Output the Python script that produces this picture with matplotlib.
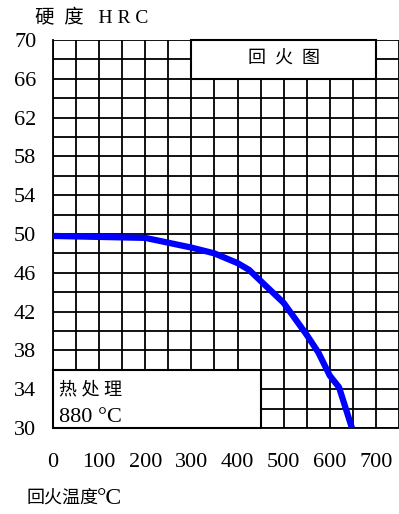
import matplotlib.pyplot as plt
from matplotlib.patches import Rectangle
import numpy as np

# 回火曲线：回火温度 (°C) 与硬度 (HRC)
temp = [0, 200, 300, 350, 400, 425, 500, 550, 575, 600, 620, 648]
hrc = [49.8, 49.6, 48.6, 48.0, 47.0, 46.3, 42.9, 39.6, 37.8, 35.4, 34.2, 30.0]

x_ticks = [0, 100, 200, 300, 400, 500, 600, 700]
y_ticks = [30, 34, 38, 42, 46, 50, 54, 58, 62, 66, 70]

fam = ['Liberation Serif', 'Noto Sans CJK SC']

fig = plt.figure(figsize=(3.99, 5.14), dpi=100)
ax = fig.add_axes([53/399, 86/514, 346/399, 388/514])

ax.set_xlim(0, 737)
ax.set_ylim(30, 70)
ax.set_xticks(x_ticks)
ax.set_xticks(np.arange(0, 751, 50), minor=True)
ax.set_yticks(y_ticks)
ax.set_yticks(np.arange(30, 71, 2), minor=True)
ax.set_xticklabels([str(t) for t in x_ticks], family=fam, fontsize=16)
ax.set_yticklabels([str(t) for t in y_ticks], family=fam, fontsize=16)
ax.tick_params(which='both', length=0)
ax.tick_params(axis='x', pad=18)
ax.tick_params(axis='y', pad=12)
ax.grid(which='both', color='black', linewidth=1.3)
ax.set_axisbelow(True)

for s in ['top', 'right']:
    ax.spines[s].set_visible(False)
for s in ['left', 'bottom']:
    ax.spines[s].set_linewidth(1.3)

ax.plot(temp, hrc, color='#0000ff', linewidth=4.5, solid_capstyle='butt', zorder=4)

# 标题框
ax.add_patch(Rectangle((300, 66), 400, 4, facecolor='white', edgecolor='black',
                       linewidth=1.5, zorder=3, clip_on=False))
ax.text(500, 68, '回  火  图', family=fam, fontsize=13, ha='center', va='center', zorder=5)

# 热处理框
ax.add_patch(Rectangle((0, 30), 450, 6, facecolor='white', edgecolor='black',
                       linewidth=1.5, zorder=3, clip_on=False))
ax.text(12, 33.9, '热 处 理', family=fam, fontsize=13, ha='left', va='center', zorder=5)
ax.text(12, 31.1, '880 °C', family=fam, fontsize=16, ha='left', va='center', zorder=5)

fig.text(35/399, 1 - 18/514, '硬  度   H R C', family=fam, fontsize=14, ha='left', va='center')
fig.text(27/399, 1 - 498/514, '回火温度', family=fam, fontsize=13, ha='left', va='center')
fig.text(97/399, 1 - 498/514, '°C', family=fam, fontsize=17, ha='left', va='center')

fig.savefig('out.png', dpi=100)
